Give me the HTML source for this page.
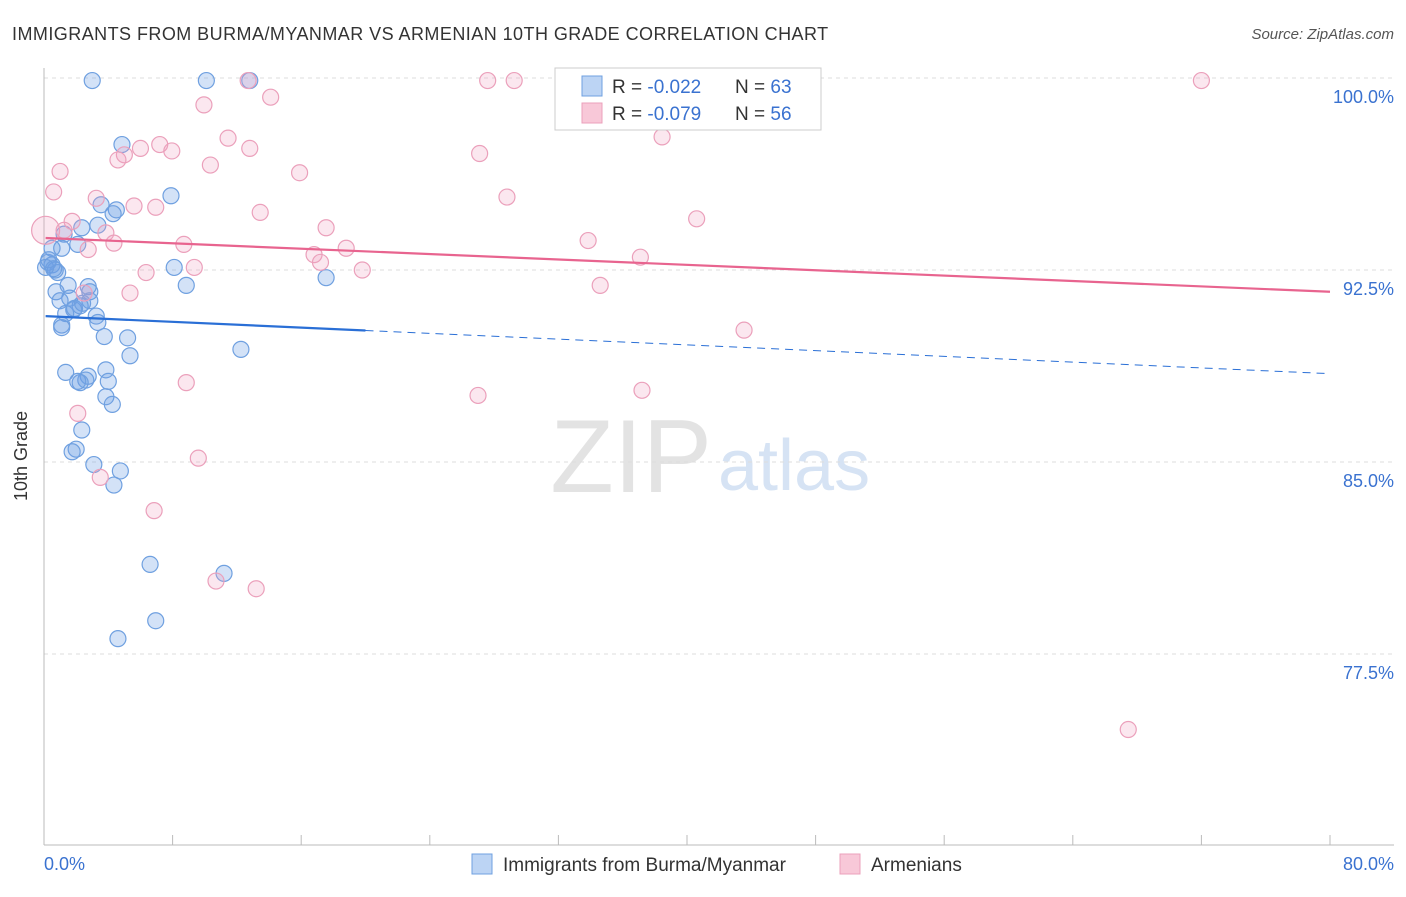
<!DOCTYPE html>
<html><head><meta charset="utf-8"><style>
body{margin:0;background:#fff;font-family:"Liberation Sans",sans-serif;}
svg text{font-family:"Liberation Sans",sans-serif;}
</style></head><body>
<svg id="chart" width="1406" height="892" viewBox="0 0 1406 892">
<text x="12" y="40" font-size="18" fill="#333" letter-spacing="0.45">IMMIGRANTS FROM BURMA/MYANMAR VS ARMENIAN 10TH GRADE CORRELATION CHART</text>
<text x="1394" y="39" font-size="15" fill="#555" font-style="italic" text-anchor="end">Source: ZipAtlas.com</text>
<text x="712" y="492" font-size="104" fill="#e3e3e3" text-anchor="end" font-family="Liberation Serif">ZIP</text>
<text x="718" y="490" font-size="72" fill="#d6e3f4">atlas</text>
<g id="grid"></g>
<line x1="44" y1="68" x2="44" y2="845" stroke="#bbb"/>
<line x1="44" y1="845" x2="1394" y2="845" stroke="#bbb"/>
<g id="xticks"></g>
<text x="27" y="456" font-size="18" fill="#333" text-anchor="middle" transform="rotate(-90 27 456)">10th Grade</text>
<text x="44" y="870" font-size="18" fill="#3a72d0">0.0%</text>
<text x="1394" y="870" font-size="18" fill="#3a72d0" text-anchor="end">80.0%</text>
<g id="pts"></g>
<g id="trend"></g>
<g>
<rect x="555" y="68" width="266" height="62" fill="#fff" stroke="#ccc"/>
<rect x="582" y="76" width="20" height="20" fill="#bcd4f4" stroke="#6fa0e0"/>
<text x="612" y="93" font-size="19" fill="#333">R = <tspan fill="#3a72d0">-0.022</tspan></text>
<text x="735" y="93" font-size="19" fill="#333">N = <tspan fill="#3a72d0">63</tspan></text>
<rect x="582" y="103" width="20" height="20" fill="#f8c8d8" stroke="#eba0bb"/>
<text x="612" y="120" font-size="19" fill="#333">R = <tspan fill="#3a72d0">-0.079</tspan></text>
<text x="735" y="120" font-size="19" fill="#333">N = <tspan fill="#3a72d0">56</tspan></text>
</g>
<g>
<rect x="472" y="854" width="20" height="20" fill="#bcd4f4" stroke="#6fa0e0"/>
<text x="503" y="871" font-size="19" fill="#333">Immigrants from Burma/Myanmar</text>
</g>
<g>
<rect x="840" y="854" width="20" height="20" fill="#f8c8d8" stroke="#eba0bb"/>
<text x="871" y="871" font-size="19" fill="#333">Armenians</text>
</g>
</svg>
<script>
const yTicks=[100,92.5,85,77.5];
const yTickLabels=["100.0%","92.5%","85.0%","77.5%"];
const blueX=[3.0,10.1,12.8,4.85,7.9,3.55,4.5,4.3,3.35,2.35,1.25,2.1,1.1,0.5,0.25,0.5,0.85,0.7,0.1,0.75,1.5,2.75,2.85,1.6,2.85,1.0,2.25,1.85,1.35,3.25,3.35,1.1,1.1,3.75,5.2,5.35,12.25,8.1,8.85,17.55,1.35,2.75,2.6,2.25,3.85,4.0,3.85,4.25,2.35,2.0,1.75,3.1,4.75,4.35,6.6,11.2,6.95,4.6,2.1,0.3,0.6,1.9,2.4];
const blueY=[99.9,99.9,99.9,97.4,95.4,95.05,94.85,94.7,94.25,94.15,93.9,93.5,93.35,93.35,92.8,92.7,92.4,92.5,92.6,91.65,91.9,91.85,91.65,91.4,91.3,91.3,91.1,90.95,90.8,90.7,90.45,90.35,90.25,89.9,89.85,89.15,89.4,92.6,91.9,92.2,88.5,88.35,88.2,88.1,88.6,88.15,87.55,87.25,86.25,85.5,85.4,84.9,84.65,84.1,81.0,80.65,78.8,78.1,88.15,92.9,92.55,91.0,91.2];
const pinkX=[12.7,27.6,29.25,32.85,72.0,9.95,14.1,11.45,7.2,12.8,6.0,7.95,5.0,4.6,10.35,1.0,15.9,38.45,27.1,0.6,3.25,5.6,6.95,28.8,13.45,40.6,1.75,1.25,3.85,17.55,33.85,4.35,8.7,18.8,2.75,16.8,37.1,17.2,9.35,6.35,19.8,34.6,5.35,2.5,43.55,8.85,37.2,27.0,2.1,9.6,3.5,6.85,10.7,13.2,67.45,0.1];
const pinkY=[99.9,99.9,99.9,99.9,99.9,98.95,99.25,97.65,97.4,97.25,97.25,97.15,97.0,96.8,96.6,96.35,96.3,97.7,97.05,95.55,95.3,95.0,94.95,95.35,94.75,94.5,94.4,94.05,93.95,94.15,93.65,93.55,93.5,93.35,93.3,93.1,93.0,92.8,92.6,92.4,92.5,91.9,91.6,91.6,90.15,88.1,87.8,87.6,86.9,85.15,84.4,83.1,80.35,80.05,74.55,94.05];
const blueTrend=[90.7,88.45];
const pinkTrend=[93.75,91.65];
const NS="http://www.w3.org/2000/svg";
function sx(v){return 44+v*16.075;}
function sy(v){return 78+(100-v)*25.6;}
function mk(tag,attrs,parent){const e=document.createElementNS(NS,tag);for(const k in attrs)e.setAttribute(k,attrs[k]);document.getElementById(parent).appendChild(e);return e;}
yTicks.forEach((t,i)=>{
 const l=mk('line',{x1:44,x2:1394,y1:sy(t),y2:sy(t),stroke:'#ddd','stroke-dasharray':'4,4'},'grid');
 
 
 const tx=mk('text',{x:1394,y:sy(t)+25,'font-size':18,fill:'#3a72d0','text-anchor':'end'},'grid');
 tx.textContent=yTickLabels[i];
 
 
});
for(let i=0;i<=10;i++){
 const l=mk('line',{x1:sx(i*8),x2:sx(i*8),y1:835,y2:845,stroke:'#bbb'},'xticks');
 
 
}
blueX.forEach((x,i)=>{
 const c=mk('circle',{cx:sx(x),cy:sy(blueY[i]),r:8,fill:'rgba(110,160,230,0.3)',stroke:'#6fa0e0','stroke-width':1.2},'pts');
 
 
});
pinkX.forEach((x,i)=>{
 const c=mk('circle',{cx:sx(x),cy:sy(pinkY[i]),r:i===pinkX.length-1?14:8,fill:'rgba(240,160,190,0.25)',stroke:'#eba0bb','stroke-width':1.2},'pts');
 
 
});
const bAt=x=>blueTrend[0]+(blueTrend[1]-blueTrend[0])*x/80;
let t1=mk('line',{x1:sx(0.1),y1:sy(bAt(0.1)),x2:sx(20),y2:sy(bAt(20)),stroke:'#2a6fd6','stroke-width':2.2},'trend');


let t2=mk('line',{x1:sx(20),y1:sy(bAt(20)),x2:sx(80),y2:sy(bAt(80)),stroke:'#2a6fd6','stroke-width':1,'stroke-dasharray':'8,6'},'trend');


let t3=mk('line',{x1:sx(0.1),y1:sy(pinkTrend[0]),x2:sx(80),y2:sy(pinkTrend[1]),stroke:'#e8648f','stroke-width':2.2},'trend');


</script>
</body></html>
